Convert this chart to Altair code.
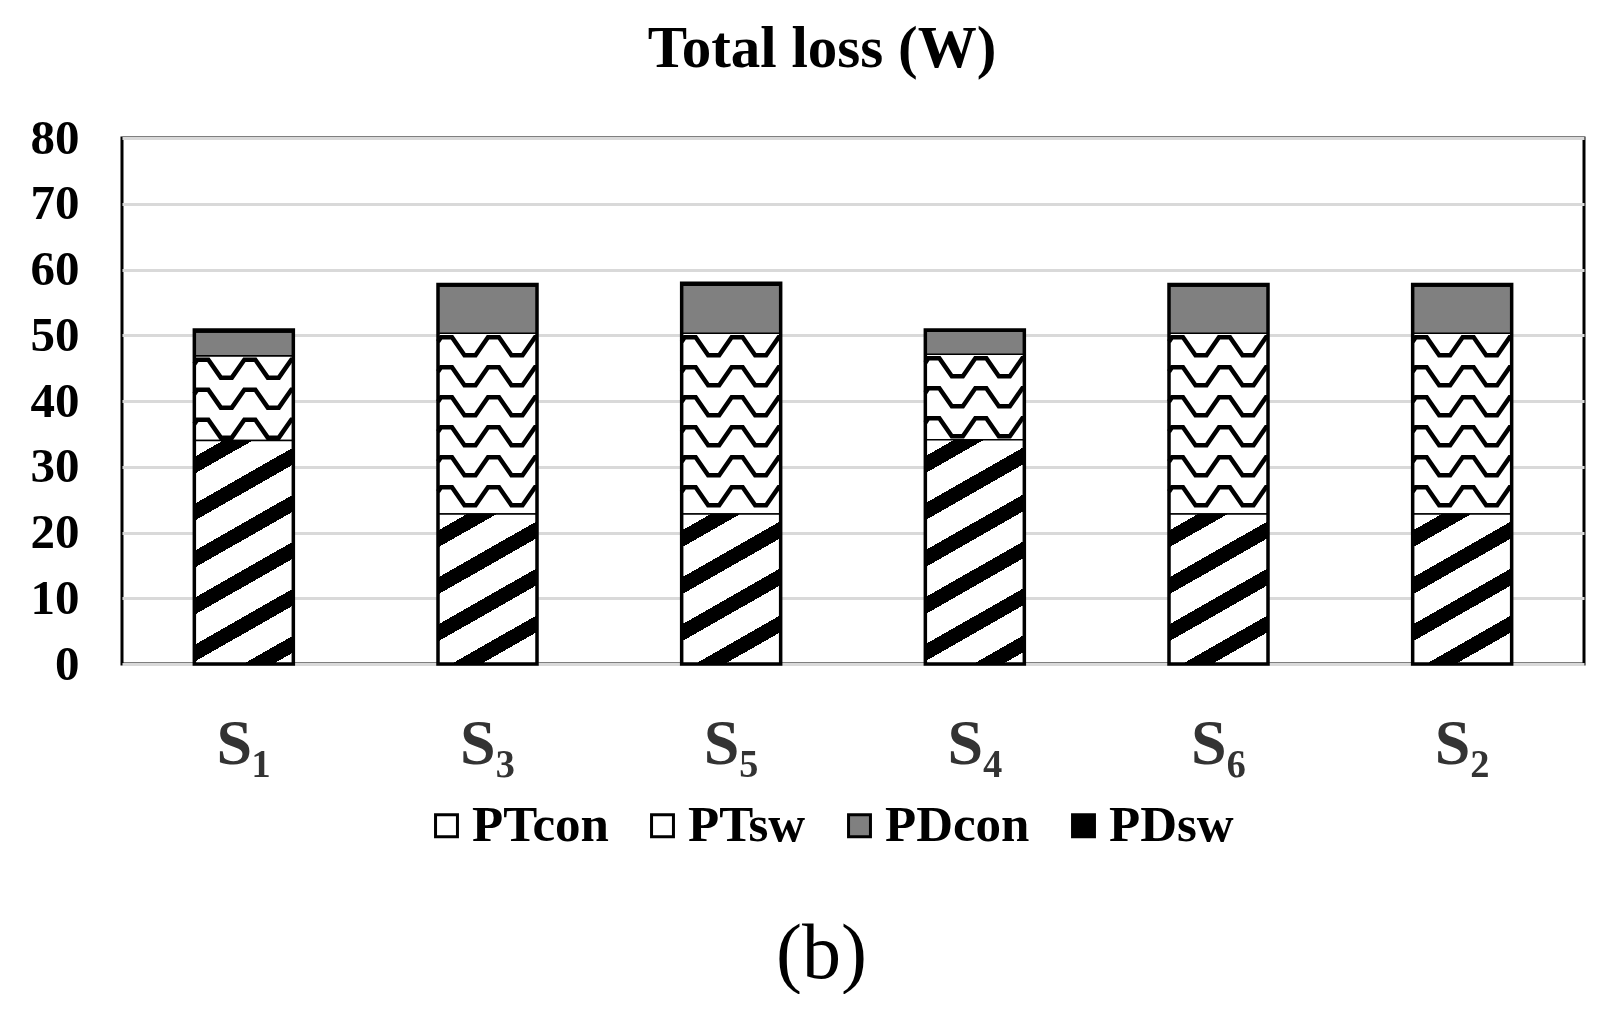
import math
import altair as alt
import pandas as pd

# ---------------- data ----------------
categories = ["S₁", "S₃", "S₅", "S₄", "S₆", "S₂"]
series = ["PTcon", "PTsw", "PDcon", "PDsw"]
pt_con = [34.0, 22.8, 22.8, 34.1, 22.8, 22.8]
pt_sw = [12.9, 27.5, 27.5, 13.0, 27.5, 27.5]
pd_con = [3.6, 7.2, 7.3, 3.5, 7.2, 7.2]
pd_sw = [0.3, 0.2, 0.3, 0.2, 0.2, 0.2]
y_ticks = [0, 10, 20, 30, 40, 50, 60, 70, 80]
series_colors = ["white", "white", "#808080", "black"]

rows = []
for i, c in enumerate(categories):
    for j, (s, vals) in enumerate(zip(series, [pt_con, pt_sw, pd_con, pd_sw])):
        rows.append({"cat": c, "series": s, "value": vals[i], "order": j})
df = pd.DataFrame(rows)

# ---------------- layout / style ----------------
W, H = 1462, 526
BAR = 99
YMAX = 80
PX = H / YMAX
FONT = "Liberation Serif"


def diag_gradient(w, h, m=0.57, pv=47.0, frac=0.36, phase=0.35):
    """Diagonal black/white stripes (lower-left to upper-right) as a linear gradient."""
    k = h / (m * w)
    gx = (1 + k) / (1 + k * k)
    gy = k * gx
    d = (m * w + h) / math.sqrt(1 + m * m)
    p = (pv / math.sqrt(1 + m * m)) / d
    stops = [{"offset": 0, "color": "white"}]
    start = phase * p - p
    while start < 1:
        a, b = max(0.0, start), min(1.0, start + frac * p)
        if b > a:
            stops += [
                {"offset": round(a, 5), "color": "white"},
                {"offset": round(a, 5), "color": "black"},
                {"offset": round(b, 5), "color": "black"},
                {"offset": round(b, 5), "color": "white"},
            ]
        start += p
    stops.append({"offset": 1, "color": "white"})
    return {"gradient": "linear", "x1": 0, "y1": 0, "x2": round(gx, 5), "y2": round(gy, 5), "stops": stops}


def wave_path(w, h, rp=30.0, amp=18.0, period=47.0, flat=11.0):
    """Rows of stepped waves, in symbol units (1 unit = w/2 px)."""
    r = w / 2
    top = -h / 2 + 4
    x0 = -w / 2 + 3
    slope = period / 2 - flat

    def f(x):
        s = (x - x0) % period
        if s < flat:
            return 0.0
        if s < flat + slope:
            return amp * (s - flat) / slope
        if s < 2 * flat + slope:
            return amp
        return amp * (1 - (s - 2 * flat - slope) / slope)

    xs = {-w / 2, w / 2}
    base = x0 - period
    while base < w / 2 + period:
        for off in (0, flat, flat + slope, 2 * flat + slope):
            xv = base + off
            if -w / 2 < xv < w / 2:
                xs.add(xv)
        base += period
    xs = sorted(xs)
    parts = []
    yb = top
    while yb + amp <= h / 2 - 1:
        pts = [(x / r, (yb + f(x)) / r) for x in xs]
        parts.append("M" + " L".join(f"{px:.4f} {py:.4f}" for px, py in pts))
        yb += rp
    return " ".join(parts)


x_enc = alt.X(
    "cat:N",
    sort=categories,
    scale=alt.Scale(paddingInner=0, paddingOuter=0),
    axis=alt.Axis(
        title="(b)",
        labelAngle=0,
        labelFont=FONT,
        labelFontSize=64,
        labelFontWeight="bold",
        labelColor="#333333",
        labelPadding=48,
        ticks=False,
        domain=False,
        grid=False,
        titleFont=FONT,
        titleFontSize=78,
        titleFontWeight="normal",
        titleColor="black",
        titlePadding=139,
        titleX=W / 2 - 32,
    ),
)


def y_enc(field):
    return alt.Y(
        field,
        scale=alt.Scale(domain=[0, YMAX]),
        axis=alt.Axis(
            values=y_ticks,
            title=None,
            labelFont=FONT,
            labelFontSize=49,
            labelFontWeight="bold",
            labelColor="black",
            labelPadding=43,
            ticks=False,
            domain=False,
            gridColor="#d9d9d9",
            gridWidth=3,
        ),
    )


base = alt.Chart(df).transform_stack(
    stack="value", groupby=["cat"], as_=["y0", "y1"], sort=[alt.SortField("order", order="ascending")]
)

bars = base.mark_bar(size=BAR, stroke="black", strokeWidth=1.5).encode(
    x=x_enc,
    y=y_enc("y0:Q"),
    y2="y1:Q",
    color=alt.Color(
        "series:N",
        scale=alt.Scale(domain=series, range=series_colors),
        legend=alt.Legend(
            title=None,
            orient="none",
            direction="horizontal",
            columns=4,
            legendX=299,
            legendY=662,
            padding=0,
            symbolType="square",
            symbolSize=480,
            symbolStrokeColor="black",
            symbolStrokeWidth=3,
            labelFont=FONT,
            labelFontSize=51,
            labelFontWeight="bold",
            labelColor="black",
            labelOffset=0,
            columnPadding=28,
        ),
    ),
)

layers = [bars]
for i, c in enumerate(categories):
    grad = diag_gradient(BAR, pt_con[i] * PX)
    layers.append(
        base.transform_filter(f"datum.cat == '{c}' && datum.series == 'PTcon'")
        .mark_bar(size=BAR, fill=grad, stroke="black", strokeWidth=1.5)
        .encode(x=x_enc, y=y_enc("y0:Q"), y2="y1:Q")
    )
for i, c in enumerate(categories):
    path = wave_path(BAR, pt_sw[i] * PX)
    layers.append(
        base.transform_filter(f"datum.cat == '{c}' && datum.series == 'PTsw'")
        .transform_calculate(ym="(datum.y0 + datum.y1) / 2")
        .mark_point(shape=path, size=BAR * BAR, filled=False, stroke="black", strokeWidth=4.5, opacity=1)
        .encode(x=x_enc, y=y_enc("ym:Q"))
    )

outline = (
    alt.Chart(df)
    .transform_aggregate(total="sum(value)", groupby=["cat"])
    .mark_bar(size=BAR, fill="transparent", stroke="black", strokeWidth=3.5)
    .encode(x=x_enc, y=y_enc("total:Q"))
)
layers.append(outline)

chart = (
    alt.layer(*layers)
    .properties(
        width=W,
        height=H,
        background="white",
        autosize=alt.AutoSizeParams(type="none"),
        padding={"left": 114, "top": 130, "right": 9, "bottom": 330},
        title=alt.TitleParams(
            "Total loss (W)",
            font=FONT,
            fontSize=59,
            fontWeight="bold",
            color="black",
            anchor="middle",
            frame="group",
            baseline="alphabetic",
            offset=-12,
            dx=-31,
        ),
    )
    .configure_view(stroke="black", strokeWidth=3)
)

chart.save("out.html", embed_options={"renderer": "svg", "actions": False})
